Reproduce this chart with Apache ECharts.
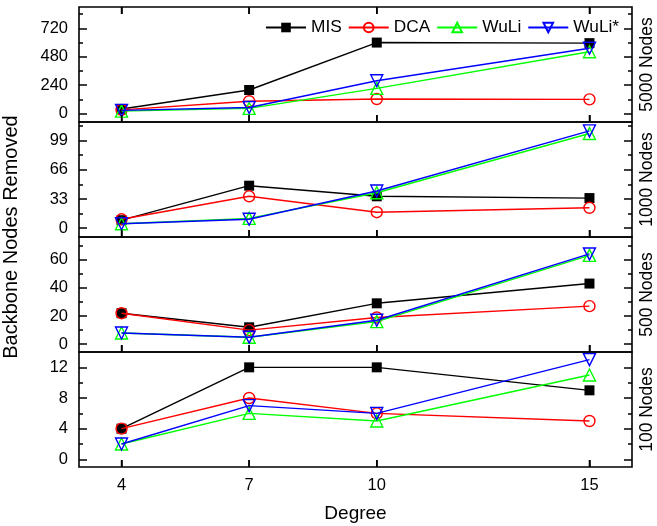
<!DOCTYPE html>
<html>
<head>
<meta charset="utf-8">
<script src="https://cdn.jsdelivr.net/npm/echarts@6/dist/echarts.min.js"></script>
<style>
  html, body { margin: 0; padding: 0; background: #fff; }
  #chart { width: 657px; height: 526px; }
</style>
</head>
<body>
<div id="chart"></div>
<script>
// Degree values on the shared x axis
const degrees = [4, 7, 10, 15];
const algorithms = ['MIS', 'DCA', 'WuLi', 'WuLi*'];

// Backbone nodes removed, one array per algorithm and network size
const mis5000  = [40, 200, 600, 595];
const dca5000  = [32, 105, 124, 121];
const wuli5000 = [22, 45, 214, 523];
const wuliS5000 = [28, 52, 278, 552];

const mis1000  = [9, 48, 36, 34];
const dca1000  = [10, 36, 18, 23];
const wuli1000 = [5, 11, 40, 107];
const wuliS1000 = [5, 10, 42, 110];

const mis500  = [22, 12, 29, 43];
const dca500  = [22, 10, 19, 27];
const wuli500 = [8, 5, 16, 63];
const wuliS500 = [8, 5, 17, 64];

const mis100  = [4, 12, 12, 9];
const dca100  = [4, 8, 6, 5];
const wuli100 = [2, 6, 5, 11];
const wuliS100 = [2, 7, 6, 13];

// Panel titles, y ranges and tick values (top panel first)
const panelNames = ['5000 Nodes', '1000 Nodes', '500 Nodes', '100 Nodes'];
const yMin = [-70, -10, -5.5, -1];
const yMax = [900, 120, 76, 14];
const yMajor = [[0, 240, 480, 720], [0, 33, 66, 99], [0, 20, 40, 60], [0, 4, 8, 12]];
const yMinor = [[120, 360, 600, 840], [16.5, 49.5, 82.5, 115.5], [10, 30, 50, 70], [2, 6, 10]];

const panelData = [
  [mis5000, dca5000, wuli5000, wuliS5000],
  [mis1000, dca1000, wuli1000, wuliS1000],
  [mis500, dca500, wuli500, wuliS500],
  [mis100, dca100, wuli100, wuliS100]
];

const FONT = '"Liberation Sans", Arial, sans-serif';
const colors = ['#000000', '#ff0000', '#00ff00', '#0000ff'];
const symbols = ['rect', 'circle', 'triangle', 'triangle'];
const symbolSizes = [10, 11, 12, 12];
const symbolRotates = [0, 0, 0, 180];

const gridLeft = 79, gridRight = 25, gridTop = 7, panelH = 115;
const xTickLen = 7;
// helper-scale bound that puts its zero line xTickLen px inside a panel edge
const anchorPad = xTickLen / (panelH - xTickLen);

const grids = [], xAxes = [], yAxes = [], series = [], graphics = [];
const tickStyle = { color: '#000', width: 1.5 };
const panelAxes = [];   // [xAxisIndex, yAxisIndex] of each panel

for (let p = 0; p < 4; p++) {
  grids.push({
    left: gridLeft, right: gridRight, top: gridTop + p * panelH, height: panelH,
    show: true, borderColor: '#000', borderWidth: 1.6, backgroundColor: 'transparent'
  });

  const yBase = { type: 'value', gridIndex: p, min: yMin[p], max: yMax[p],
                  axisLine: { show: false, onZero: false }, splitLine: { show: false } };
  const firstY = yAxes.length;
  // left major ticks with labels
  yAxes.push(Object.assign({}, yBase, {
    position: 'left',
    axisTick: { show: true, inside: true, length: 8, customValues: yMajor[p], lineStyle: tickStyle },
    axisLabel: { show: true, customValues: yMajor[p], margin: 11,
                 color: '#000', fontSize: 16.5, fontFamily: FONT }
  }));
  // left minor ticks
  yAxes.push(Object.assign({}, yBase, {
    position: 'left',
    axisTick: { show: true, inside: true, length: 4, customValues: yMinor[p], lineStyle: tickStyle },
    axisLabel: { show: false }
  }));
  // right major ticks
  yAxes.push(Object.assign({}, yBase, {
    position: 'right',
    axisTick: { show: true, inside: true, length: 8, customValues: yMajor[p], lineStyle: tickStyle },
    axisLabel: { show: false }
  }));
  // right minor ticks
  yAxes.push(Object.assign({}, yBase, {
    position: 'right',
    axisTick: { show: true, inside: true, length: 4, customValues: yMinor[p], lineStyle: tickStyle },
    axisLabel: { show: false }
  }));
  // helper scales whose zero line sits one tick length inside the bottom / top edge
  const bottomAnchor = yAxes.length;
  yAxes.push({ type: 'value', gridIndex: p, min: -anchorPad, max: 1, show: false });
  let topAnchor = null;
  if (p === 0) {
    topAnchor = yAxes.length;
    yAxes.push({ type: 'value', gridIndex: p, min: -1, max: anchorPad, show: false });
  }

  const isBottom = p === 3;
  // data axis of the panel (labels on the lowest panel only)
  const xIndex = xAxes.length;
  panelAxes.push([xIndex, firstY]);
  xAxes.push({
    type: 'value', gridIndex: p, position: 'bottom', min: 3, max: 16,
    axisLine: { show: false, onZero: false },
    axisTick: { show: false },
    axisLabel: { show: isBottom, customValues: degrees, margin: 10,
                 color: '#000', fontSize: 16.5, fontFamily: FONT },
    splitLine: { show: false },
    name: isBottom ? 'Degree' : '',
    nameLocation: 'middle', nameGap: 37,
    nameTextStyle: { color: '#000', fontSize: 19, fontFamily: FONT }
  });
  // degree ticks reaching from the helper zero line out to the bottom edge
  xAxes.push({
    type: 'value', gridIndex: p, position: 'bottom', min: 3, max: 16,
    axisLine: { show: false, onZero: true, onZeroAxisIndex: bottomAnchor },
    axisTick: { show: true, inside: false, length: xTickLen, customValues: degrees, lineStyle: tickStyle },
    axisLabel: { show: false },
    splitLine: { show: false }
  });
  if (topAnchor !== null) {
    xAxes.push({
      type: 'value', gridIndex: p, position: 'top', min: 3, max: 16,
      axisLine: { show: false, onZero: true, onZeroAxisIndex: topAnchor },
      axisTick: { show: true, inside: false, length: xTickLen, customValues: degrees, lineStyle: tickStyle },
      axisLabel: { show: false },
      splitLine: { show: false }
    });
  }

  for (let a = 0; a < 4; a++) {
    const filled = a === 0;
    series.push({
      type: 'line', name: algorithms[a],
      xAxisIndex: xIndex, yAxisIndex: firstY,
      data: degrees.map((d, i) => [d, panelData[p][a][i]]),
      symbol: symbols[a], symbolSize: symbolSizes[a], symbolRotate: symbolRotates[a],
      showAllSymbol: true, clip: false,
      lineStyle: { color: colors[a], width: 1.4 },
      itemStyle: { color: filled ? colors[a] : 'rgba(255,255,255,0)',
                   borderColor: colors[a], borderWidth: filled ? 0 : 1.4 },
      emphasis: { disabled: true },
      animation: false, z: 2 + a
    });
  }

  graphics.push({
    type: 'text', x: 647, y: gridTop + p * panelH + panelH / 2, rotation: Math.PI / 2,
    style: { text: panelNames[p], fill: '#000', fontSize: 17.5, fontFamily: FONT,
             align: 'center', verticalAlign: 'middle' }
  });
}

graphics.push({
  type: 'text', x: 11, y: gridTop + 2 * panelH, rotation: Math.PI / 2,
  style: { text: 'Backbone Nodes Removed', fill: '#000', fontSize: 20, fontFamily: FONT,
           align: 'center', verticalAlign: 'middle' }
});

const chart = echarts.init(document.getElementById('chart'), null, { renderer: 'canvas' });
chart.setOption({
  animation: false,
  backgroundColor: '#fff',
  grid: grids,
  xAxis: xAxes,
  yAxis: yAxes,
  series: series,
  legend: {
    data: algorithms, left: 265, top: 19, padding: 0,
    itemWidth: 40, itemHeight: 12, itemGap: 6,
    textStyle: { color: '#000', fontSize: 17.3, fontFamily: FONT }
  },
  graphic: graphics
});

// Same degree ticks as plain lines, positioned through each panel's scales
const tickLines = [];
panelAxes.forEach(([xi, yi], p) => {
  const edges = [[yMin[p], -1]];
  if (p === 0) edges.push([yMax[p], 1]);
  edges.forEach(([edgeValue, dir]) => {
    degrees.forEach(d => {
      let pt = null;
      try { pt = chart.convertToPixel({ xAxisIndex: xi, yAxisIndex: yi }, [d, edgeValue]); }
      catch (e) { pt = null; }
      if (!pt || !isFinite(pt[0]) || !isFinite(pt[1])) return;
      tickLines.push({
        type: 'line', z: 100, silent: true,
        shape: { x1: pt[0], y1: pt[1], x2: pt[0], y2: pt[1] + dir * xTickLen },
        style: { stroke: '#000', lineWidth: 1.5 }
      });
    });
  });
});
if (tickLines.length) chart.setOption({ graphic: graphics.concat(tickLines) });
</script>
</body>
</html>
